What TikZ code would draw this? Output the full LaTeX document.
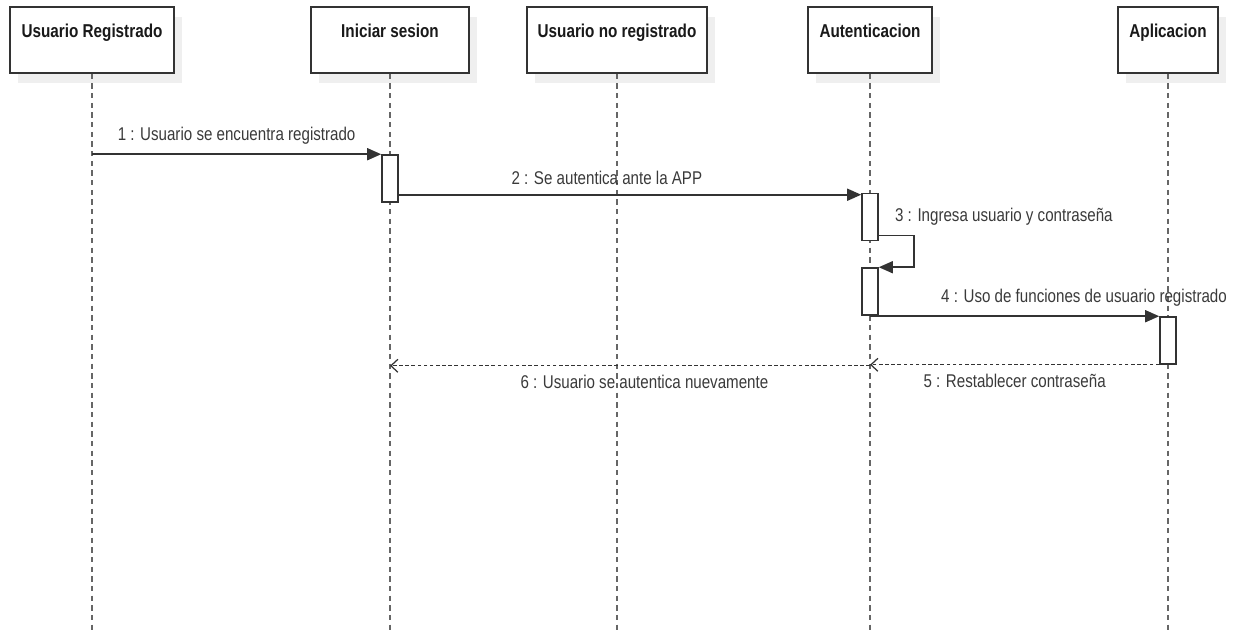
\documentclass[tikz,border=0pt]{standalone}
\usepackage{fontspec}
\setmainfont{Liberation Sans}[FakeStretch=0.82]
\usetikzlibrary{arrows.meta, positioning, calc, shadows}
\definecolor{inkline}{HTML}{333333}
\definecolor{lifegray}{HTML}{666666}
\definecolor{shadowgray}{HTML}{EFEFEF}
\definecolor{msgtext}{HTML}{3A3A3A}

\begin{document}
\begin{tikzpicture}[x=0.02cm, y=-0.02cm, line width=0.9pt,
  actor/.style={draw=inkline, fill=white, inner sep=0pt, minimum height=1.32cm,
    text height=0.6cm, text depth=0.72cm, font=\fontsize{10.6}{12}\selectfont\bfseries, text=black!90,
    drop shadow={shadow xshift=0.16cm, shadow yshift=-0.2cm, fill=shadowgray, opacity=1}},
  lifeline/.style={lifegray, line width=0.6pt, dash pattern=on 3pt off 2.5pt},
  activation/.style={draw=inkline, fill=white, minimum width=0.32cm, minimum height=0.94cm, inner sep=0pt},
  msg/.style={inkline, -{Triangle[length=0.28cm, width=0.24cm]}},
  reply/.style={inkline, line width=0.7pt, dash pattern=on 2pt off 1.5pt, -{Straight Barb[length=0.14cm, width=0.26cm]}},
  msglabel/.style={text=msgtext, font=\fontsize{10.5}{12}\selectfont, inner sep=2pt}]

\useasboundingbox (0,0) rectangle (1241,630);

% Lifeline heads
\node[actor, minimum width=3.28cm] (regUser) at (92,40) {Usuario Registrado};
\node[actor, minimum width=3.16cm] (login) at (390,40) {Iniciar sesion};
\node[actor, minimum width=3.60cm] (guest) at (617,40) {Usuario no registrado};
\node[actor, minimum width=2.48cm] (auth) at (870,40) {Autenticacion};
\node[actor, minimum width=2.00cm] (app) at (1168,40) {Aplicacion};

% Lifelines
\foreach \who in {regUser, login, guest, auth, app}
  \draw[lifeline] (\who.south) -- (\who.south |- 0,630);

% Activation bars
\node[activation] (actLogin) at (390,178.5) {};
\node[activation] (actAuthA) at (870,217) {};
\node[activation] (actAuthB) at (870,291.5) {};
\node[activation] (actApp) at (1168,340.5) {};

% 1
\draw[msg] (regUser.south |- actLogin.north) -- (actLogin.north west)
  node[msglabel, midway, above=3pt] {1 : Usuario se encuentra registrado};

% 2
\draw[msg] (actLogin.east |- actAuthA.north) ++(0,2) -- ($(actAuthA.north west)+(0,2)$)
  node[msglabel, pos=0.45, above=3pt] {2 : Se autentica ante la APP};

% 3 (self call)
\coordinate (selfStart) at ($(actAuthA.south east)+(0,-6)$);
\draw[msg] (selfStart) -- ++(35,0) |- (actAuthB.north east);
\node[msglabel, anchor=west] (selfLabel) at ($(actAuthA.north east)+(12,24)$) {3 : Ingresa usuario y contraseña};

% 4
\draw[msg] (actAuthB.south |- actApp.north) -- (actApp.north west)
  node[msglabel, pos=0.74, above=3pt] {4 : Uso de funciones de usuario registrado};

% 5
\draw[reply] (actApp.south west) -- (auth.south |- actApp.south)
  node[msglabel, midway, below=3pt] {5 : Restablecer contraseña};

% 6
\draw[reply] ($(auth.south |- actApp.south)+(0,1)$) -- ($(login.south |- actApp.south)+(0,1)$)
  node[msglabel, pos=0.47, below=3pt] {6 : Usuario se autentica nuevamente};

\end{tikzpicture}
\end{document}
